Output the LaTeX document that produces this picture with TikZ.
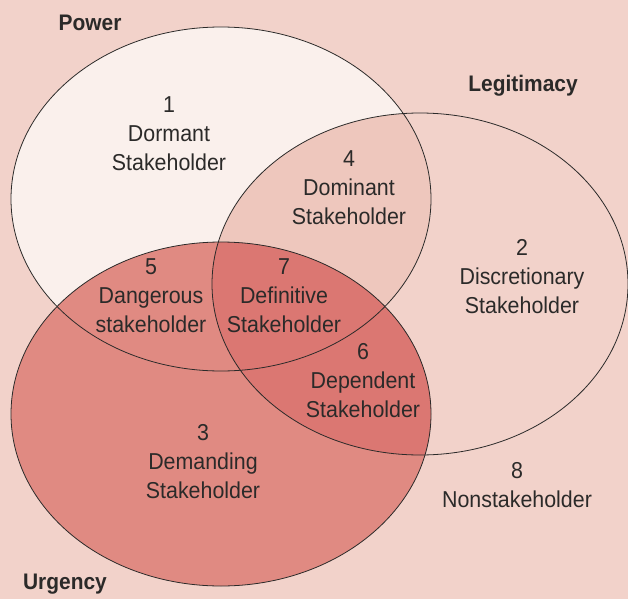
\documentclass[tikz,border=0pt]{standalone}
\usepackage{fontspec}
\setmainfont{Liberation Sans}[FakeStretch=0.93]
\usepackage{tikz}
\definecolor{bgpink}{HTML}{F2D2CA}
\definecolor{powerwhite}{HTML}{FAF0EC}
\definecolor{powerlegit}{HTML}{EEC7BD}
\definecolor{urgred}{HTML}{E08A82}
\definecolor{urglegit}{HTML}{DB7772}
\definecolor{inkgrey}{HTML}{2B2A29}
\tikzset{
  stakeholder/.style={align=center, text=inkgrey, inner sep=0pt,
    font=\fontsize{23}{29}\selectfont},
  attribute/.style={text=inkgrey, inner sep=0pt,
    font=\fontsize{22.5}{27}\selectfont\bfseries},
  rim/.style={draw=inkgrey, line width=0.8pt}
}
\def\powerset{(221,199) ellipse [x radius=210, y radius=172]}
\def\legitset{(420,284) ellipse [x radius=208, y radius=171]}
\def\urgset{(221,414) ellipse [x radius=210, y radius=172]}

\begin{document}
\begin{tikzpicture}[x=1pt, y=-1pt]
		%%%%% START %%%%%
		
		\fill[bgpink] (0,0) rectangle (628,599);
		\useasboundingbox (0,0) rectangle (628,599);
		
		\fill[bgpink] \legitset;
		\fill[powerwhite] \powerset;
		\begin{scope}
			\clip \powerset;
			\fill[powerlegit] \legitset;
		\end{scope}
		\fill[urgred] \urgset;
		\begin{scope}
			\clip \urgset;
			\fill[urglegit] \legitset;
		\end{scope}
		
		\draw[rim] \powerset;
		\draw[rim] \legitset;
		\draw[rim] \urgset;
		
		\node[attribute] (power) at (90, 23) {Power};
		\node[attribute] (legit) at (523, 86) {Legitimacy};
		\node[attribute] (urgency) at (65, 584) {Urgency};
		
		\node[stakeholder] (n1) at (169, 134) {1\\Dormant\\Stakeholder};
		\node[stakeholder] (n2) at (522, 277) {2\\Discretionary\\Stakeholder};
		\node[stakeholder] (n3) at (203, 462) {3\\Demanding\\Stakeholder};
		\node[stakeholder] (n4) at (349, 188) {4\\Dominant\\Stakeholder};
		\node[stakeholder] (n5) at (151, 296) {5\\Dangerous\\stakeholder};
		\node[stakeholder] (n6) at (363, 381) {6\\Dependent\\Stakeholder};
		\node[stakeholder] (n7) at (284, 296) {7\\Definitive\\Stakeholder};
		\node[stakeholder] (n8) at (517, 485) {8\\Nonstakeholder};
		
		%%%%% END %%%%%
\end{tikzpicture}
\end{document}
